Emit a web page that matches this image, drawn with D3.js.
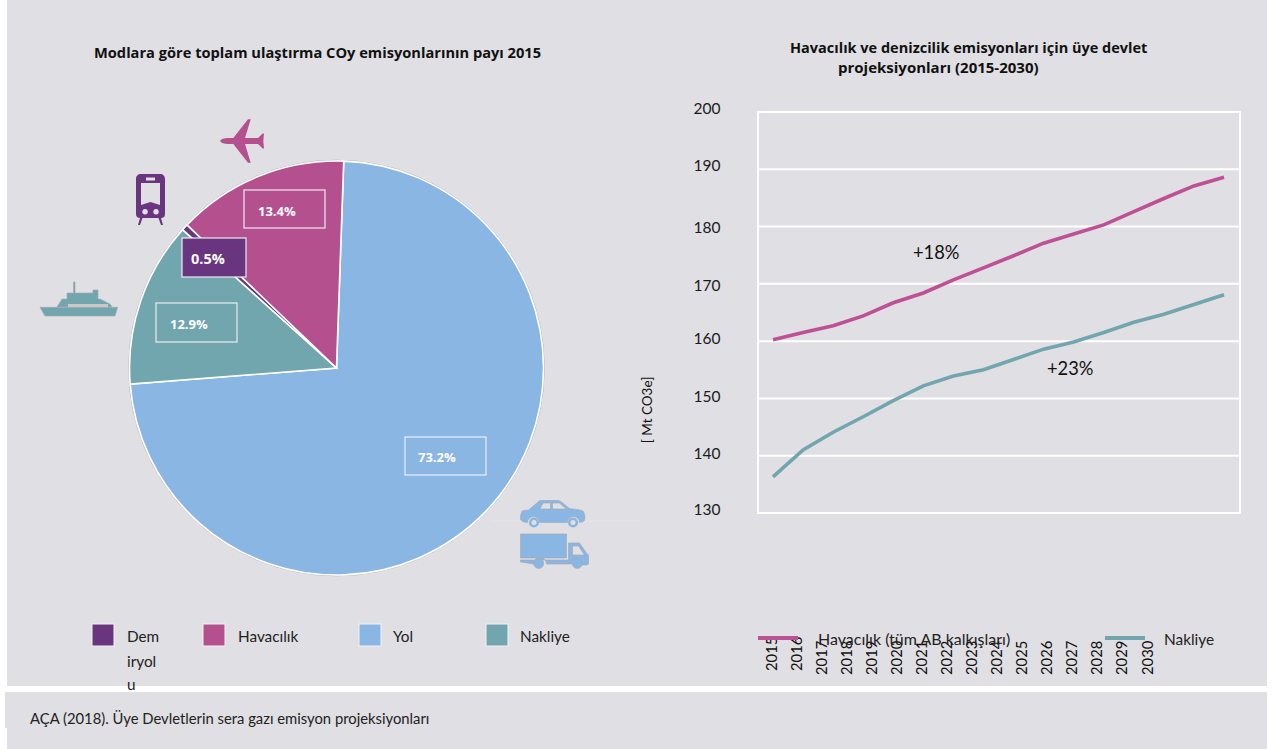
<!DOCTYPE html>
<html lang="tr"><head><meta charset="utf-8">
<script src="https://cdn.jsdelivr.net/npm/d3@7/dist/d3.min.js"></script>
<style>html,body{margin:0;padding:0;background:#fff;overflow:hidden}svg{display:block}</style>
</head><body><svg id="c" width="1273" height="749"></svg>
<script>
// ---- data ----
const pieCategories = ["Yol","Nakliye","Demiryolu","Havacılık"];
const pieValues = [73.2,12.9,0.5,13.4];
const years = [2015,2016,2017,2018,2019,2020,2021,2022,2023,2024,2025,2026,2027,2028,2029,2030];
const aviation = [160.25,161.5,162.7,164.4,166.7,168.4,170.7,172.8,174.9,177.1,178.7,180.3,182.6,184.9,187.1,188.6];
const shipping = [136.3,141.0,144.1,146.8,149.6,152.2,153.9,155.0,156.8,158.6,159.85,161.5,163.3,164.7,166.4,168.1];
const yTicks = [130,140,150,160,170,180,190,200];
const legendLeft = ["Demiryolu","Havacılık","Yol","Nakliye"];

// ---- style/layout ----
const BG="#E0DFE3", PURPLE="#69357F", PINK="#B5508E", BLUE="#8AB6E3", TEAL="#72A6AE", LPINK="#BE5195";
const colors = {"Yol":BLUE,"Nakliye":TEAL,"Demiryolu":PURPLE,"Havacılık":PINK};
const SANS="Lato, Carlito, 'Open Sans', sans-serif", HEAD="'Open Sans', sans-serif";
const svg = d3.select("#c");
svg.append("rect").attr("width",1273).attr("height",749).attr("fill","#fff");
svg.append("rect").attr("x",7).attr("y",0).attr("width",1260).attr("height",686).attr("fill",BG);
svg.append("rect").attr("x",5).attr("y",692).attr("width",1262).attr("height",36).attr("fill",BG);
svg.append("rect").attr("x",7).attr("y",728).attr("width",1260).attr("height",21).attr("fill",BG);

// faint line behind vehicles
svg.append("line").attr("x1",490).attr("x2",640).attr("y1",521).attr("y2",521).attr("stroke","#E6E5E8");

// ---- pie ----
const cx=336.5, cy=368, R=207, startDeg=2;
const pie = d3.pie().sort(null).startAngle(startDeg*Math.PI/180).endAngle((360+startDeg)*Math.PI/180);
const arcs = pie(pieValues);
const arc = d3.arc().innerRadius(0).outerRadius(R);
const gp = svg.append("g").attr("transform",`translate(${cx},${cy})`);
gp.append("circle").attr("r",R+0.8).attr("fill","none").attr("stroke","#A9A9AD").attr("stroke-width",0.8);
gp.selectAll("path.s").data(arcs).join("path").attr("class","s").attr("d",arc)
  .attr("fill",(d,i)=>colors[pieCategories[i]]).attr("stroke","#fff").attr("stroke-width",1.6);

// pie label boxes
const boxes = {"Havacılık":[244,190,81,38,258,216,13],"Demiryolu":[182,238,64,39,191,264,14.5],"Nakliye":[156,303,81,39,170,329,13],"Yol":[405,437,81,38,418,462,13]};
pieCategories.forEach((c,i)=>{
  const b=boxes[c];
  svg.append("rect").attr("x",b[0]).attr("y",b[1]).attr("width",b[2]).attr("height",b[3])
    .attr("fill",c==="Demiryolu"?PURPLE:"none").attr("stroke","#EDEBF0").attr("stroke-width",1.2);
  svg.append("text").attr("x",b[4]).attr("y",b[5]).attr("fill","#fff").attr("font-family",HEAD)
    .attr("font-weight",700).attr("font-size",b[6]).text(pieValues[i].toFixed(1)+"%");
});

// ---- titles ----
svg.append("text").attr("x",94).attr("y",58).attr("font-family",HEAD).attr("font-weight",700).attr("font-size",14.65).attr("fill","#111").text("Modlara göre toplam ulaştırma COy emisyonlarının payı 2015");
svg.append("text").attr("x",790).attr("y",53).attr("font-family",HEAD).attr("font-weight",700).attr("font-size",14.5).attr("fill","#111").text("Havacılık ve denizcilik emisyonları için üye devlet");
svg.append("text").attr("x",838).attr("y",73).attr("font-family",HEAD).attr("font-weight",700).attr("font-size",15).attr("fill","#111").text("projeksiyonları (2015-2030)");

// ---- line chart ----
const x = d3.scalePoint().domain(years).range([773,1224]);
const y = d3.scaleLinear().domain([130,200]).range([513,112]);
const gridG = svg.append("g");
gridG.selectAll("line").data(yTicks).join("line").attr("x1",757).attr("x2",1241)
  .attr("y1",d=>y(d)).attr("y2",d=>y(d)).attr("stroke","#fff").attr("stroke-width",2);
[758,1240].forEach(px=>gridG.append("line").attr("x1",px).attr("x2",px).attr("y1",y(200)).attr("y2",y(130)).attr("stroke","#fff").attr("stroke-width",2));
const tickNudge = {130:-3,140:-2,150:-1,160:-2,170:2,180:1,190:-3,200:-3};
svg.append("g").selectAll("text").data(yTicks).join("text").attr("x",720.5).attr("y",d=>y(d)+tickNudge[d]+5)
  .attr("text-anchor","end").attr("font-family",SANS).attr("font-size",15.5).attr("fill","#1a1a1a").text(d=>d);
const line = d3.line().x((d,i)=>x(years[i])).y(d=>y(d));
svg.append("path").attr("d",line(aviation)).attr("fill","none").attr("stroke",LPINK).attr("stroke-width",3.6);
svg.append("path").attr("d",line(shipping)).attr("fill","none").attr("stroke",TEAL).attr("stroke-width",3.6);
svg.append("text").attr("x",913).attr("y",259).attr("font-family",SANS).attr("font-size",18.3).attr("fill","#111").text("+18%");
svg.append("text").attr("x",1047).attr("y",375).attr("font-family",SANS).attr("font-size",18.3).attr("fill","#111").text("+23%");
svg.append("text").attr("transform","translate(652,410) rotate(-90)").attr("text-anchor","middle").attr("font-family",SANS).attr("font-size",13.5).attr("fill","#111").text("[ Mt CO3e]");

// rotated year labels
const xl = d3.scalePoint().domain(years).range([771,1147]);
svg.append("g").selectAll("text").data(years).join("text")
  .attr("transform",d=>`translate(${xl(d)+5.5},${d===2015||d===2016?671:675}) rotate(-90)`).attr("font-family",SANS).attr("font-size",14.8).attr("fill","#111").text(d=>d);

// ---- legends ----
const lgX={"Demiryolu":[92,127],"Havacılık":[203,238],"Yol":[359,393],"Nakliye":[486,520]};
legendLeft.forEach(c=>{
  const p=lgX[c];
  svg.append("rect").attr("x",p[0]).attr("y",624).attr("width",22).attr("height",22).attr("fill",colors[c]).attr("stroke","#F3F2F5");
  if(c==="Demiryolu"){
    [["Dem",642],["iryol",667],["u",690]].forEach(t=>svg.append("text").attr("x",p[1]).attr("y",t[1]).attr("font-family",SANS).attr("font-size",15.3).attr("fill","#222").text(t[0]));
  } else svg.append("text").attr("x",p[1]).attr("y",642).attr("font-family",SANS).attr("font-size",15.3).attr("fill","#222").text(c);
});
[[758,798,LPINK,818,"Havacılık (tüm AB kalkışları)",16],[1105,1145,TEAL,1164,"Nakliye",15.4]].forEach(l=>{
  svg.append("line").attr("x1",l[0]).attr("x2",l[1]).attr("y1",638).attr("y2",638).attr("stroke",l[2]).attr("stroke-width",4);
  svg.append("text").attr("x",l[3]).attr("y",645).attr("font-family",SANS).attr("font-size",l[5]).attr("fill","#222").text(l[4]);
});
svg.append("text").attr("x",30).attr("y",724).attr("font-family",SANS).attr("font-size",14.8).attr("fill","#222").text("AÇA (2018). Üye Devletlerin sera gazı emisyon projeksiyonları");

// ---- icons ----
function icon(d,color,tx,ty,stroke){svg.append("path").attr("transform",`translate(${tx},${ty})`).attr("d",d).attr("fill",color).attr("fill-rule","evenodd").attr("stroke",stroke||"none").attr("stroke-width",stroke?0.6:0);}
// plane
icon("M0 0C1-2 4-3 8-3L13.300-3L28-21.700L30.700-21.700L25-3L38-3L42.700-7.500L44-7.500L43.300 0L44 7.500L42.700 7.500L38 3L25 3L30.700 21.700L28 21.700L13.300 3L8 3C4 3 1 2 0 0Z",PINK,220,141);
// train
icon("M5 0H24C27 0 29 2 29 5V40C29 43 27 44 25 44L27 51H25L22.5 44H6.5L4 51H2L4 44C2 44 0 43 0 40V5C0 2 2 0 5 0Z M10 3.5V6.5H19V3.5Z M5 9V31L14.5 28L24 31V9Z M9 35a2.8 2.8 0 1 0 .1 0Z M20 35a2.8 2.8 0 1 0 .1 0Z",PURPLE,136,174);
// ship
icon("M0 26.300H77.700L75 35H5Z M17 26L22 18H27V12H33.500V1H35V12H53V9H58V18H60L70 23L72 26Z",TEAL,40,281,"#A5A8AC");
svg.append("rect").attr("x",68).attr("y",304).attr("width",40).attr("height",3).attr("fill","#C9C9CC");
// car
icon("M1 13C1 11 3 11 8 10.5L17 3C18 1.500 19 1 21 1H38C39 1 40 1.500 41 2.500L49 9C56 10 62 10.500 63 12C64 14 65 18 64 21C63 22 60 23 59 23A6 6 0 0 0 47 23H19A6 6 0 0 0 7 23C4 23 1 22 0 20C0 18 0 15 1 13Z M19.500 9.500H30V3.500H24C23 3.500 22.500 4 22 4.500Z M32 3.500V9.500H46L40 4.500C39.500 3.800 39 3.500 38 3.500Z",BLUE,520.5,499.5,"#A5A8AC");
[[13.5,23],[52.5,23]].forEach(p=>svg.append("circle").attr("cx",520.5+p[0]).attr("cy",499.5+p[1]).attr("r",3.8).attr("fill",BG).attr("stroke",BLUE).attr("stroke-width",2.6));
// truck
icon("M0 0H46V24H0Z M48 9H59L66 19L68 21V30L66 31H62A6.500 6.500 0 0 0 52 30H26A6.500 6.500 0 0 0 13 30L0 28V26H48Z M52 12V21H64L58 12Z",BLUE,520.5,534,"#A5A8AC");
[[18.2,29.5],[56.8,29.5]].forEach(p=>svg.append("circle").attr("cx",520.5+p[0]).attr("cy",534+p[1]).attr("r",5).attr("fill",BLUE).attr("stroke","#A5A8AC").attr("stroke-width",.6));
</script></body></html>
